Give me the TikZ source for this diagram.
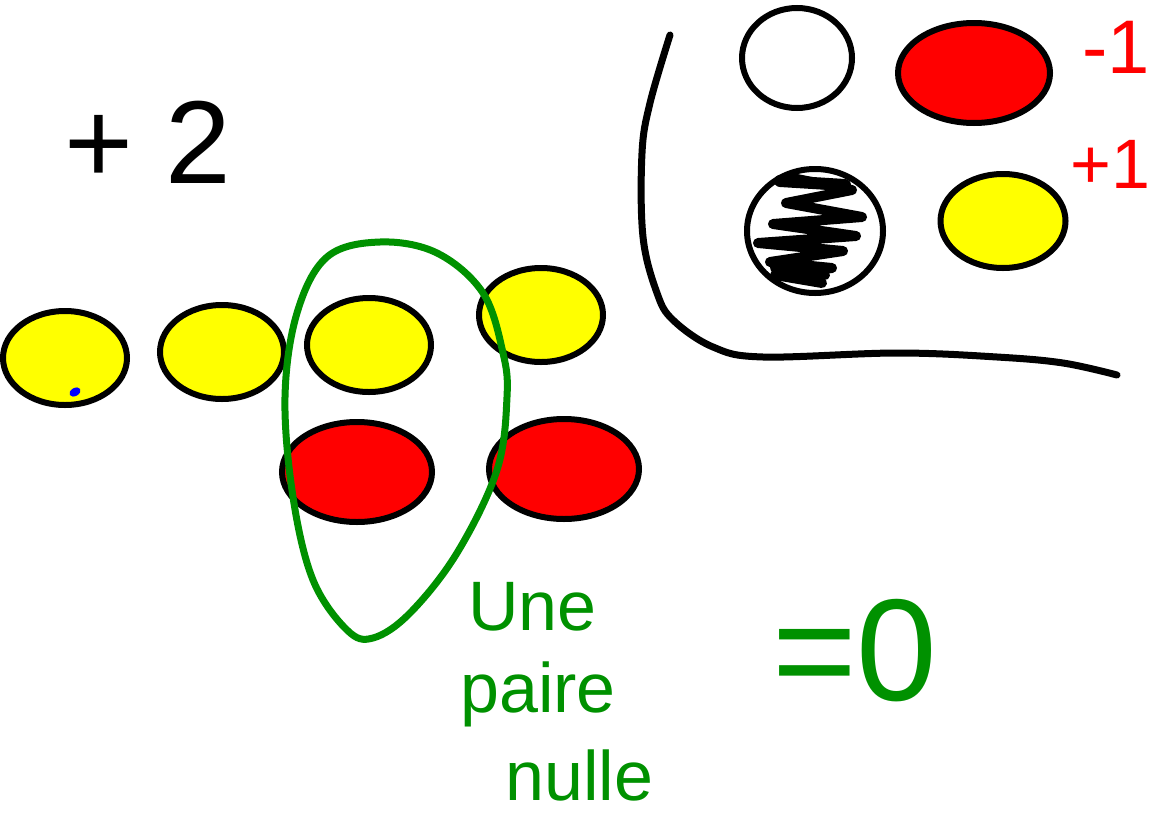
\documentclass[tikz,border=0pt]{standalone}
\usepackage{fontspec}
\setmainfont{Liberation Sans}
\usetikzlibrary{shapes.geometric}
\definecolor{pengreen}{RGB}{0,145,0}
\definecolor{penred}{RGB}{255,0,0}
\definecolor{penyellow}{RGB}{255,255,0}
\tikzset{
  chip/.style={ellipse, draw=black, line width=6pt, inner sep=0pt},
  ychip/.style={chip, fill=penyellow, minimum width=124pt, minimum height=94pt},
  rchip/.style={chip, fill=penred, minimum width=150pt, minimum height=100pt},
  greenpen/.style={draw=pengreen, line width=7pt, line cap=round, line join=round},
  blackpen/.style={draw=black, line width=7pt, line cap=round, line join=round},
  gtext/.style={text=pengreen, inner sep=0pt, font=\fontsize{70}{70}\selectfont},
}
\begin{document}
\begin{tikzpicture}[x=1pt,y=-1pt]
\useasboundingbox[fill=white] (0,0) rectangle (1151,814);

% +2
\node[inner sep=0pt, font=\fontsize{118}{118}\selectfont] (plustwo) at (148,142) {+ 2};

% left chips
\node[ychip] (y1) at (65,358) {};
\node[ychip] (y2) at (222,352) {};
\node[ychip] (y3) at (369,345) {};
\node[ychip] (y4) at (541,315) {};
\node[rchip] (r1) at (357,472) {};
\node[rchip] (r2) at (564,469) {};

% blue dot
\fill[blue, rotate around={30:(75,392)}] (75,392) ellipse (6pt and 4pt);

% green loop
\draw[greenpen] plot[smooth cycle, tension=0.6] coordinates {
  (380,242) (437,253) (483,293) (503,353) (507,397) (497,470)
  (457,553) (410,613) (373,638) (347,630) (313,580) (293,497)
  (285,397) (297,313) (327,257)};

% green text
\node[gtext, anchor=base west] (une) at (468,630) {Une};
\node[gtext, anchor=base west] (paire) at (460,712) {paire};
\node[gtext, anchor=base west] (nulle) at (505,800) {nulle};
\node[text=pengreen, inner sep=0pt, anchor=base west, font=\fontsize{145}{145}\selectfont] (eqzero) at (772,700) {=0};

% legend bracket
\draw[blackpen] plot[smooth, tension=0.6] coordinates {
  (670,35) (650,103) (642,153) (643,237) (657,293) (673,320) (713,347)
  (763,357) (897,353) (997,357) (1063,363) (1117,375)};

% legend chips
\node[chip, fill=white, minimum width=110pt, minimum height=100pt] (wc) at (797,58) {};
\node[rchip, minimum width=152pt] (rc) at (974,73) {};
\node[ychip, minimum width=125pt] (yc) at (1003,221) {};
\node[chip, fill=white, minimum width=136pt, minimum height=124pt] (bc) at (815,231) {};
\draw[line width=10pt, line cap=round, line join=round] (792,178) -- (852,190) -- (786,203) -- (862,217) -- (773,224) -- (856,236) -- (758,243) -- (843,251) -- (770,262) -- (832,268) -- (775,275) -- (822,283);
\draw[line width=12pt, line cap=round] (780,181) -- (845,185);
\draw[line width=10pt, line cap=round] (775,268) -- (825,275);

% legend labels
\node[text=penred, inner sep=0pt, anchor=base west, font=\fontsize{76}{76}\selectfont] (minusone) at (1082,73) {-1};
\node[text=penred, inner sep=0pt, anchor=base west, font=\fontsize{70}{70}\selectfont] (plusone) at (1070,188) {+1};
\end{tikzpicture}
\end{document}
